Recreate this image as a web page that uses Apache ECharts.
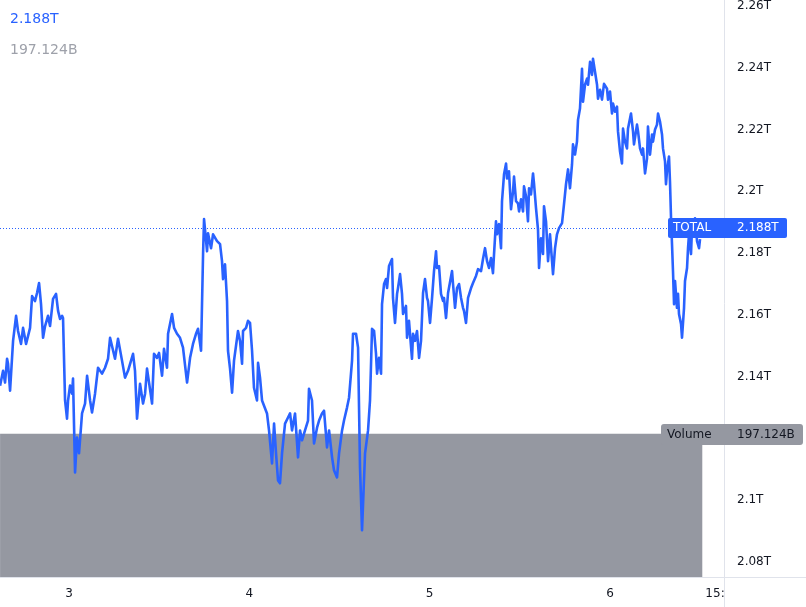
<!DOCTYPE html>
<html><head><meta charset="utf-8">
<script src="https://cdn.jsdelivr.net/npm/echarts/dist/echarts.min.js"></script>
<style>html,body{margin:0;padding:0;background:#fff;overflow:hidden}#c{width:806px;height:607px}</style>
</head><body><div id="c"></div>
<script>
// time in hours relative to day 3, 00:00
const hours = [
-9.18,-8.78,-8.52,-8.25,-8.12,-7.85,-7.45,-7.05,-6.79,-6.39,
-6.12,-5.72,-5.19,-4.92,-4.53,-4.26,-3.99,-3.73,-3.46,-3.19,
-2.80,-2.53,-2.13,-1.73,-1.46,-1.20,-0.93,-0.80,-0.53,-0.27,
-0.13,0.13,0.40,0.53,0.80,1.06,1.33,1.73,2.13,2.40,
2.80,3.06,3.46,3.86,4.39,4.79,5.19,5.46,5.72,6.12,
6.52,7.05,7.45,7.85,8.52,8.78,9.05,9.45,9.85,10.12,
10.38,10.65,11.05,11.31,11.71,11.98,12.38,12.64,13.04,13.18,
13.71,13.98,14.37,14.77,15.17,15.71,16.11,16.50,16.90,17.17,
17.57,17.84,17.97,18.37,18.50,18.90,19.17,19.70,20.10,20.36,
20.50,20.76,21.03,21.16,21.43,21.70,21.96,22.49,22.76,23.03,
23.16,23.56,23.82,24.09,24.36,24.62,25.02,25.16,25.42,25.69,
25.95,26.35,26.62,27.02,27.29,27.55,27.82,28.08,28.35,28.75,
29.15,29.42,29.68,30.08,30.48,30.75,31.01,31.41,31.81,31.94,
32.34,32.61,33.01,33.28,33.67,33.94,34.34,34.61,35.01,35.27,
35.67,35.94,36.34,36.60,37.00,37.27,37.67,37.80,38.20,38.47,
38.73,39.00,39.40,39.80,40.06,40.33,40.60,40.86,41.00,41.26,
41.53,41.66,41.93,42.19,42.33,42.59,42.99,43.12,43.39,43.66,
43.79,44.06,44.32,44.46,44.85,44.99,45.25,45.65,45.79,46.05,
46.32,46.59,46.85,47.12,47.38,47.65,47.78,48.05,48.32,48.58,
48.85,48.98,49.25,49.51,49.78,49.91,50.18,50.45,50.71,50.98,
51.11,51.38,51.64,51.91,52.18,52.44,52.57,52.84,53.11,53.51,
53.77,54.17,54.44,54.84,55.10,55.37,55.64,55.90,56.17,56.43,
56.57,56.83,56.97,57.23,57.50,57.63,57.90,58.17,58.30,58.56,
58.83,59.10,59.23,59.50,59.76,59.90,60.16,60.43,60.56,60.83,
61.09,61.23,61.49,61.76,61.89,62.16,62.42,62.56,62.82,63.09,
63.22,63.49,63.76,63.89,64.02,64.29,64.42,64.69,64.95,65.22,
65.62,65.88,66.15,66.42,66.68,66.95,67.08,67.35,67.61,67.75,
68.01,68.28,68.41,68.68,68.95,69.08,69.35,69.61,69.74,70.01,
70.28,70.41,70.68,70.94,71.21,71.61,71.74,72.01,72.27,72.41,
72.67,72.94,73.07,73.34,73.60,73.74,74.00,74.27,74.40,74.80,
75.07,75.20,75.60,75.74,76.00,76.27,76.40,76.67,76.93,77.06,
77.33,77.60,77.73,78.00,78.26,78.40,78.66,78.93,79.06,79.33,
79.46,79.59,79.86,79.99,80.13,80.26,80.39,80.53,80.66,80.92,
81.06,81.19,81.46,81.59,81.86,81.99,82.26,82.39,82.52,82.79,
82.92,83.06,83.32,83.45,83.59,83.86,83.99
];
// TOTAL market cap, in billions
const totalB = [
2137.1,2141.9,2138.1,2145.8,2144.2,2135.5,2151.6,2159.7,2154.8,2150.6,
2155.8,2150.6,2155.8,2166.1,2164.5,2167.1,2170.3,2163.5,2152.6,2156.4,
2159.7,2156.4,2165.2,2166.8,2161.3,2158.7,2159.7,2159.0,2132.3,2126.4,
2132.3,2137.1,2134.5,2139.4,2109.0,2120.3,2115.2,2128.1,2131.3,2140.3,
2132.3,2128.4,2134.5,2142.9,2141.0,2142.9,2145.8,2152.6,2152.6,2145.8,
2152.3,2145.2,2139.7,2141.9,2147.4,2141.9,2126.4,2137.7,2131.3,2134.5,
2142.6,2138.1,2131.3,2147.4,2146.1,2147.7,2140.3,2149.0,2142.9,2153.9,
2160.3,2155.8,2153.9,2152.6,2149.4,2138.1,2146.1,2150.6,2153.9,2155.5,
2148.4,2179.7,2191.0,2180.6,2186.4,2181.6,2186.1,2183.9,2182.9,2177.4,
2171.6,2176.4,2164.5,2148.4,2142.6,2134.8,2145.2,2154.8,2151.6,2144.2,
2154.8,2155.8,2158.1,2157.4,2148.4,2136.4,2132.3,2144.5,2139.7,2132.3,
2132.3,2128.1,2122.6,2111.9,2124.8,2115.2,2106.4,2105.5,2115.2,2124.8,
2126.8,2128.1,2122.6,2128.1,2113.9,2122.6,2119.4,2122.6,2125.8,2136.1,
2132.3,2118.4,2123.5,2125.8,2128.1,2129.0,2117.1,2122.6,2113.9,2109.7,
2107.4,2115.2,2122.6,2125.8,2130.0,2133.2,2145.2,2153.9,2153.9,2149.4,
2110.6,2090.3,2115.2,2122.6,2132.3,2155.5,2154.8,2147.4,2141.0,2146.1,
2141.0,2163.5,2170.0,2171.6,2168.7,2175.8,2178.1,2165.5,2157.4,2166.8,
2168.7,2173.2,2166.8,2160.3,2162.9,2152.6,2158.1,2145.8,2153.9,2151.6,
2154.8,2146.1,2151.6,2167.1,2171.6,2165.5,2164.5,2157.4,2165.5,2174.2,
2180.6,2175.2,2175.8,2166.8,2164.5,2165.5,2159.0,2167.1,2167.1,2174.2,
2170.0,2162.3,2168.7,2170.0,2165.5,2162.3,2161.3,2157.4,2165.5,2168.7,
2170.3,2172.6,2174.8,2174.2,2178.1,2181.6,2177.4,2175.2,2178.4,2173.5,
2179.7,2190.3,2186.1,2189.4,2181.6,2196.8,2205.5,2209.0,2204.2,2206.5,
2194.2,2200.0,2204.8,2196.8,2196.1,2193.5,2197.4,2193.5,2201.6,2198.4,
2190.3,2201.0,2199.0,2205.8,2202.6,2194.5,2187.7,2175.2,2184.8,2179.7,
2195.2,2190.3,2177.4,2181.6,2186.1,2177.4,2173.2,2181.6,2186.1,2188.1,
2189.7,2195.8,2202.3,2207.1,2201.0,2208.7,2215.2,2211.9,2216.1,2223.2,
2226.8,2239.7,2229.0,2234.5,2236.5,2234.5,2241.9,2237.7,2242.9,2238.7,
2234.5,2230.0,2232.9,2229.7,2234.8,2233.2,2229.7,2232.3,2225.2,2228.4,
2225.8,2227.4,2219.4,2212.9,2209.0,2220.3,2216.1,2213.9,2220.3,2225.2,
2219.4,2215.2,2221.6,2219.4,2213.9,2211.9,2213.9,2205.8,2210.6,2221.0,
2211.9,2218.4,2216.1,2220.0,2221.6,2225.2,2222.6,2218.4,2213.9,2209.7,
2202.3,2206.5,2211.3,2203.2,2191.3,2182.9,2174.2,2163.5,2171.0,2162.3,
2166.8,2160.3,2157.1,2152.6,2162.3,2171.0,2175.2,2181.6,2186.1,2179.7,
2188.1,2187.1,2191.3,2188.1,2183.9,2181.6,2184.5
];
const volumeHours = [-9.18, 84.29];
const volumeB = [197.124, 197.124];
const xTickValues = [0, 24, 48, 72, 87];
const xTickLabels = ['3', '4', '5', '6', '15:00'];
const yTickValues = [2080, 2100, 2120, 2140, 2160, 2180, 2200, 2220, 2240, 2260];
const seriesName = 'TOTAL';
const volumeName = 'Volume';
const lastPriceB = 2188;
const lastVolumeB = 197.124;

const FONT = '"DejaVu Sans", sans-serif';
const fmtT = v => (v / 1000) + 'T';
const fmtB = v => v.toFixed(3) + 'B';

const chart = echarts.init(document.getElementById('c'), null, {renderer: 'canvas'});
chart.setOption({
  animation: false,
  backgroundColor: '#ffffff',
  grid: {left: 0, right: 82, top: 0, bottom: 30, containLabel: false},
  xAxis: {
    type: 'value', min: -9.19, max: 87.18,
    axisLine: {show: false}, axisTick: {show: false}, splitLine: {show: false},
    axisLabel: {
      customValues: xTickValues,
      formatter: v => xTickLabels[xTickValues.indexOf(v)] || '',
      color: '#131722', fontFamily: FONT, fontSize: 12, margin: 11, hideOverlap: false
    }
  },
  yAxis: [{
    type: 'value', position: 'right', min: 2075.16, max: 2261.29, scale: true,
    axisLine: {show: false}, axisTick: {show: false}, splitLine: {show: false},
    axisLabel: {
      customValues: yTickValues,
      formatter: fmtT, color: '#131722', fontFamily: FONT, fontSize: 12, margin: 13,
      showMinLabel: true, showMaxLabel: true
    }
  }, {
    type: 'value', min: 0, max: 791.6, show: false
  }],
  series: [{
    name: volumeName, type: 'line', yAxisIndex: 1, step: 'end',
    data: volumeHours.map((h, i) => [h, volumeB[i]]),
    symbol: 'none', lineStyle: {width: 0}, areaStyle: {color: '#9598a1', opacity: 1}, z: 1, silent: true
  }, {
    name: seriesName, type: 'line', yAxisIndex: 0,
    data: hours.map((h, i) => [h, totalB[i]]),
    symbol: 'none', lineStyle: {color: '#2962ff', width: 2.6, join: 'round'}, z: 3,
    markLine: {
      silent: true, symbol: ['none', 'none'], label: {show: false},
      lineStyle: {color: '#2962ff', type: [1, 2], width: 1},
      data: [{yAxis: lastPriceB}]
    }
  }]
});

const yLast = chart.convertToPixel({yAxisIndex: 0}, lastPriceB);
const yVol = chart.convertToPixel({yAxisIndex: 1}, lastVolumeB);
const txt = (x, y, text, fill, size) => ({
  type: 'text', x: x, y: y, z: 120,
  style: {text: text, fill: fill, font: size + 'px ' + FONT, textVerticalAlign: 'middle', verticalAlign: 'middle'}
});
chart.setOption({
  graphic: [
    {type: 'rect', shape: {x: 725, y: 578, width: 81, height: 29}, style: {fill: '#ffffff'}, z: 90, silent: true},
    {type: 'line', shape: {x1: 724.5, y1: 0, x2: 724.5, y2: 607}, style: {stroke: '#e0e3eb', lineWidth: 1}, z: 95, silent: true},
    {type: 'line', shape: {x1: 0, y1: 577.5, x2: 806, y2: 577.5}, style: {stroke: '#e0e3eb', lineWidth: 1}, z: 95, silent: true},
    {type: 'rect', shape: {x: 668, y: Math.round(yLast) - 10, width: 119, height: 20, r: 2}, style: {fill: '#2962ff'}, z: 110},
    txt(673, Math.round(yLast), seriesName, '#ffffff', 12),
    txt(737, Math.round(yLast), fmtT(lastPriceB), '#ffffff', 12),
    {type: 'rect', shape: {x: 661, y: Math.round(yVol) - 10, width: 142, height: 21, r: 3}, style: {fill: '#9598a1'}, z: 110},
    txt(667, Math.round(yVol) + 0.5, volumeName, '#131722', 12),
    txt(737, Math.round(yVol) + 0.5, fmtB(lastVolumeB), '#131722', 12),
    txt(10, 19, fmtT(lastPriceB), '#2962ff', 14),
    txt(10, 50, fmtB(lastVolumeB), '#9ea1aa', 14)
  ]
});
</script>
</body></html>
